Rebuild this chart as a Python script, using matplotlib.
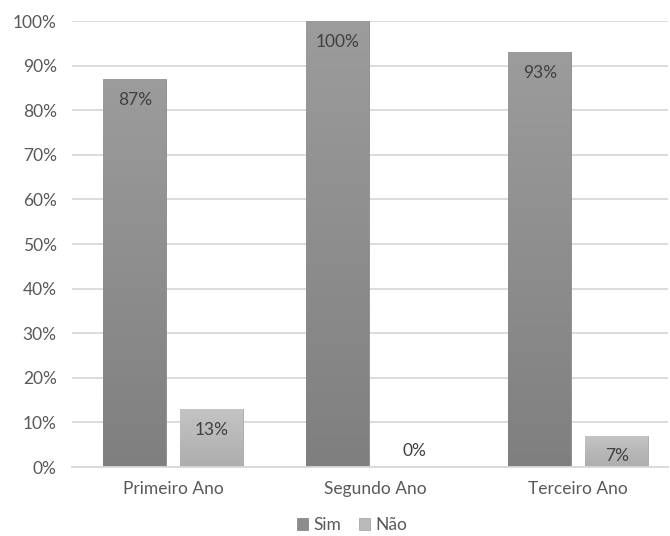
import matplotlib.pyplot as plt
import numpy as np
from matplotlib.colors import LinearSegmentedColormap

plt.rcParams['font.family'] = ['Lato', 'DejaVu Sans']

anos = ['Primeiro Ano', 'Segundo Ano', 'Terceiro Ano']
sim = [87, 100, 93]
nao = [13, 0, 7]
rotulos_sim = ['87%', '100%', '93%']
rotulos_nao = ['13%', '0%', '7%']

fig = plt.figure(figsize=(6.7, 5.36), dpi=100)
ax = fig.add_axes([0.1075, 0.1287, 0.8896, 0.832])

x = np.arange(len(anos))
largura = 0.31
desloc = 0.19

cmap_sim = LinearSegmentedColormap.from_list('sim', ['#7f7f7f', '#9c9c9c'])
cmap_nao = LinearSegmentedColormap.from_list('nao', ['#adadad', '#c4c4c4'])

barras_sim = ax.bar(x - desloc, sim, largura, color='#8c8c8c', edgecolor='#8a8a8a',
                    linewidth=0.6, label='Sim', zorder=2)
barras_nao = ax.bar(x + desloc, nao, largura, color='#bababa', edgecolor='#a8a8a8',
                    linewidth=0.6, label='Não', zorder=2)

# degradê vertical dentro de cada barra
grad = np.linspace(0, 1, 256).reshape(-1, 1)
for barras, cmap in [(barras_sim, cmap_sim), (barras_nao, cmap_nao)]:
    for b in barras:
        h = b.get_height()
        if h <= 0:
            continue
        x0 = b.get_x()
        im = ax.imshow(grad, cmap=cmap, origin='lower', aspect='auto',
                       extent=[x0, x0 + b.get_width(), 0, h], zorder=2.5)
        im.set_clip_path(b)

fs = 12.5
for barras, rot in [(barras_sim, rotulos_sim), (barras_nao, rotulos_nao)]:
    for b, t in zip(barras, rot):
        h = b.get_height()
        cx = b.get_x() + b.get_width() / 2
        if h > 0:
            ax.annotate(t, (cx, h), xytext=(0, -9), textcoords='offset points',
                        ha='center', va='top', fontsize=fs, color='#404040', zorder=4)
        else:
            ax.annotate(t, (cx, h), xytext=(0, 6), textcoords='offset points',
                        ha='center', va='bottom', fontsize=fs, color='#404040', zorder=4)

ax.set_xlim(-0.5, 2.444)
ax.set_ylim(0, 100)
ax.set_yticks(range(0, 101, 10))
ax.set_yticklabels([f'{v}%' for v in range(0, 101, 10)])
ax.set_xticks(x)
ax.set_xticklabels(anos)
ax.yaxis.grid(True, color='#d9d9d9', linewidth=1.3, zorder=0)
ax.set_axisbelow(True)
for s in ['top', 'right', 'left']:
    ax.spines[s].set_visible(False)
ax.spines['bottom'].set_color('#d9d9d9')
ax.spines['bottom'].set_linewidth(1.3)
ax.tick_params(axis='both', length=0, labelsize=fs, labelcolor='#595959')
ax.tick_params(axis='y', pad=11)
ax.tick_params(axis='x', pad=10)

ax.legend(loc='center', bbox_to_anchor=(0.47, -0.13), ncol=2, frameon=False,
          fontsize=fs, handlelength=0.65, handleheight=0.65, handletextpad=0.3,
          columnspacing=1.0, labelcolor='#595959', borderpad=0)

plt.savefig('out.png')
